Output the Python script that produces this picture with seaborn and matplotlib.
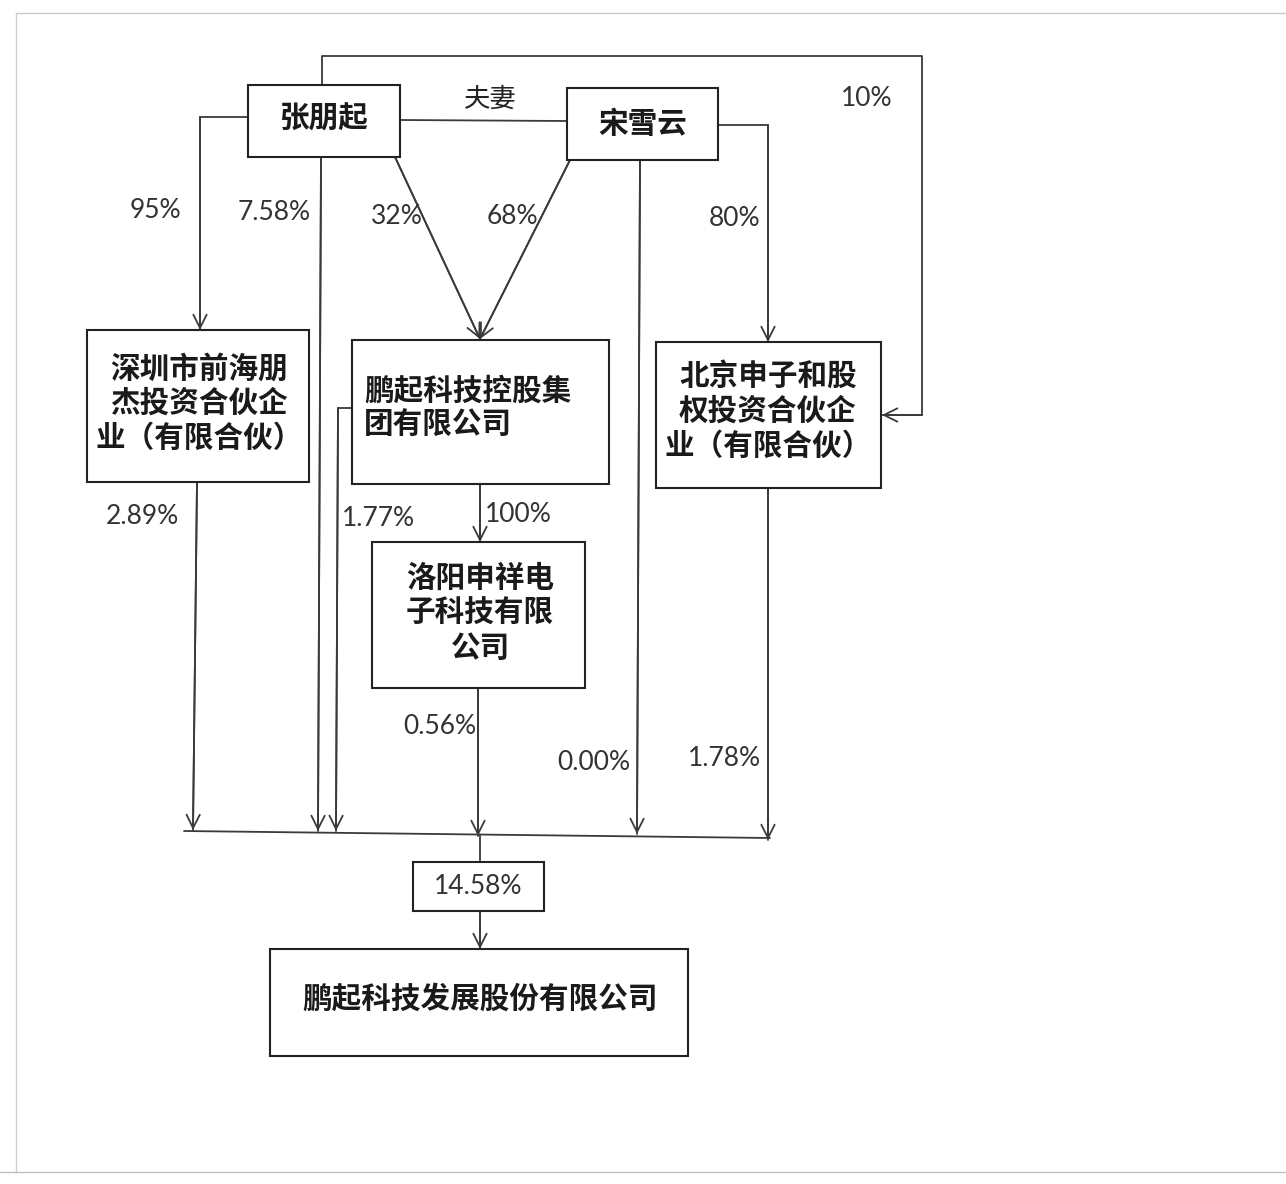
import matplotlib
matplotlib.use("Agg")
import matplotlib.pyplot as plt
from matplotlib.patches import Rectangle
import seaborn as sns
import pandas as pd

# ---------------- data ----------------
node_ids = ["zpq", "sxy", "szqh", "pqkg", "bjsz", "lysx", "total", "target"]
node_labels = [
    "张朋起",
    "宋雪云",
    "深圳市前海朋\n杰投资合伙企\n业（有限合伙）",
    "鹏起科技控股集\n团有限公司",
    "北京申子和股\n权投资合伙企\n业（有限合伙）",
    "洛阳申祥电\n子科技有限\n公司",
    "14.58%",
    "鹏起科技发展股份有限公司",
]
edge_sources = ["zpq", "zpq", "zpq", "sxy", "sxy", "sxy", "zpq", "szqh", "pqkg", "pqkg", "lysx", "bjsz"]
edge_targets = ["szqh", "target", "pqkg", "pqkg", "target", "bjsz", "bjsz", "target", "target", "lysx", "target", "target"]
edge_pcts = ["95%", "7.58%", "32%", "68%", "0.00%", "80%", "10%", "2.89%", "1.77%", "100%", "0.56%", "1.78%"]
relation_label = "夫妻"

# ---------------- layout (pixel coords) ----------------
boxes = {
    "zpq": (248, 85, 400, 157),
    "sxy": (567, 88, 718, 160),
    "szqh": (87, 330, 309, 482),
    "pqkg": (352, 340, 609, 484),
    "bjsz": (656, 342, 881, 488),
    "lysx": (372, 542, 585, 688),
    "total": (413, 862, 544, 911),
    "target": (270, 949, 688, 1056),
}
text_pos = {
    "zpq": (323, 119, "center"),
    "sxy": (643, 124, "center"),
    "szqh": (199, 403, "center"),
    "pqkg": (364, 408, "left"),
    "bjsz": (768, 411, "center"),
    "lysx": (480, 613, "center"),
    "total": (478, 886, "center"),
    "target": (480, 999, "center"),
}
paths = [
    [(248, 117), (200, 117), (200, 330)],
    [(321, 157), (318, 831)],
    [(395, 157), (480, 339)],
    [(570, 160), (480, 339)],
    [(640, 160), (637, 834)],
    [(718, 125), (768, 125), (768, 342)],
    [(322, 85), (322, 56), (922, 56), (922, 415), (882, 415)],
    [(197, 482), (193, 830)],
    [(352, 408), (338, 408), (336, 831)],
    [(480, 484), (480, 542)],
    [(478, 688), (478, 836)],
    [(768, 488), (768, 840)],
]
label_pos = [(155, 210), (274, 212), (397, 216), (512, 217), (594, 763), (735, 219),
             (867, 98), (142, 516), (378, 518), (518, 514), (440, 727), (724, 758)]
extra_lines = [
    [(400, 120), (567, 121)],   # 夫妻
    [(184, 831), (770, 838)],   # bus
    [(480, 835), (480, 862)],   # bus -> total box
]
final_arrow = [(480, 911), (480, 949)]

LINE = "#3a3a3a"
PCT_FONT = ["Lato", "DejaVu Sans"]

sns.set_theme(style="white")
plt.rcParams["font.family"] = ["Noto Sans CJK SC", "DejaVu Sans"]

W, H = 1286, 1184
fig = plt.figure(figsize=(W / 100, H / 100), dpi=100)
ax = fig.add_axes([0, 0, 1, 1])

# connector lines via seaborn
rows = []
for i, p in enumerate(paths + extra_lines + [final_arrow]):
    for j, (x, y) in enumerate(p):
        rows.append({"seg": i, "order": j, "x": x, "y": y})
df = pd.DataFrame(rows)
sns.lineplot(data=df, x="x", y="y", units="seg", estimator=None, sort=False,
             color=LINE, lw=1.3, ax=ax, legend=False)
ax.set_xlim(0, W)
ax.set_ylim(H, 0)
ax.axis("off")

# scan frame
ax.plot([16, W], [13, 13], color="#c8c8c8", lw=1)
ax.plot([16, 16], [13, 1172], color="#d0d0d0", lw=1)
ax.plot([0, W], [1172, 1172], color="#c0c0c0", lw=1)

# arrowheads
def arrowhead(p0, p1):
    ax.annotate("", xy=p1, xytext=p0,
                arrowprops=dict(arrowstyle="->,head_length=0.8,head_width=0.4",
                                color=LINE, lw=1.3, shrinkA=0, shrinkB=0))

for p in paths:
    arrowhead(p[-2], p[-1])
arrowhead(*final_arrow)

# boxes + labels
for nid, lab in zip(node_ids, node_labels):
    x0, y0, x1, y1 = boxes[nid]
    ax.add_patch(Rectangle((x0, y0), x1 - x0, y1 - y0, fill=True, facecolor="white",
                           edgecolor="#222222", lw=1.5, zorder=3))
    tx, ty, al = text_pos[nid]
    if nid == "total":
        ax.text(tx, ty, lab, ha="center", va="center", fontsize=19,
                family=PCT_FONT, color="#333333", zorder=4)
    else:
        ax.text(tx, ty, lab, ha=al, va="center", multialignment=al, fontsize=21.3,
                fontweight="bold", linespacing=1.2, color="#1a1a1a", zorder=4)

# percentage labels
for lab, (x, y) in zip(edge_pcts, label_pos):
    ax.text(x, y, lab, ha="center", va="center", fontsize=19,
            family=PCT_FONT, color="#333333")

ax.text(490, 99, relation_label, ha="center", va="center", fontsize=19, color="#222222")

fig.savefig("out.png", dpi=100, facecolor="white")
